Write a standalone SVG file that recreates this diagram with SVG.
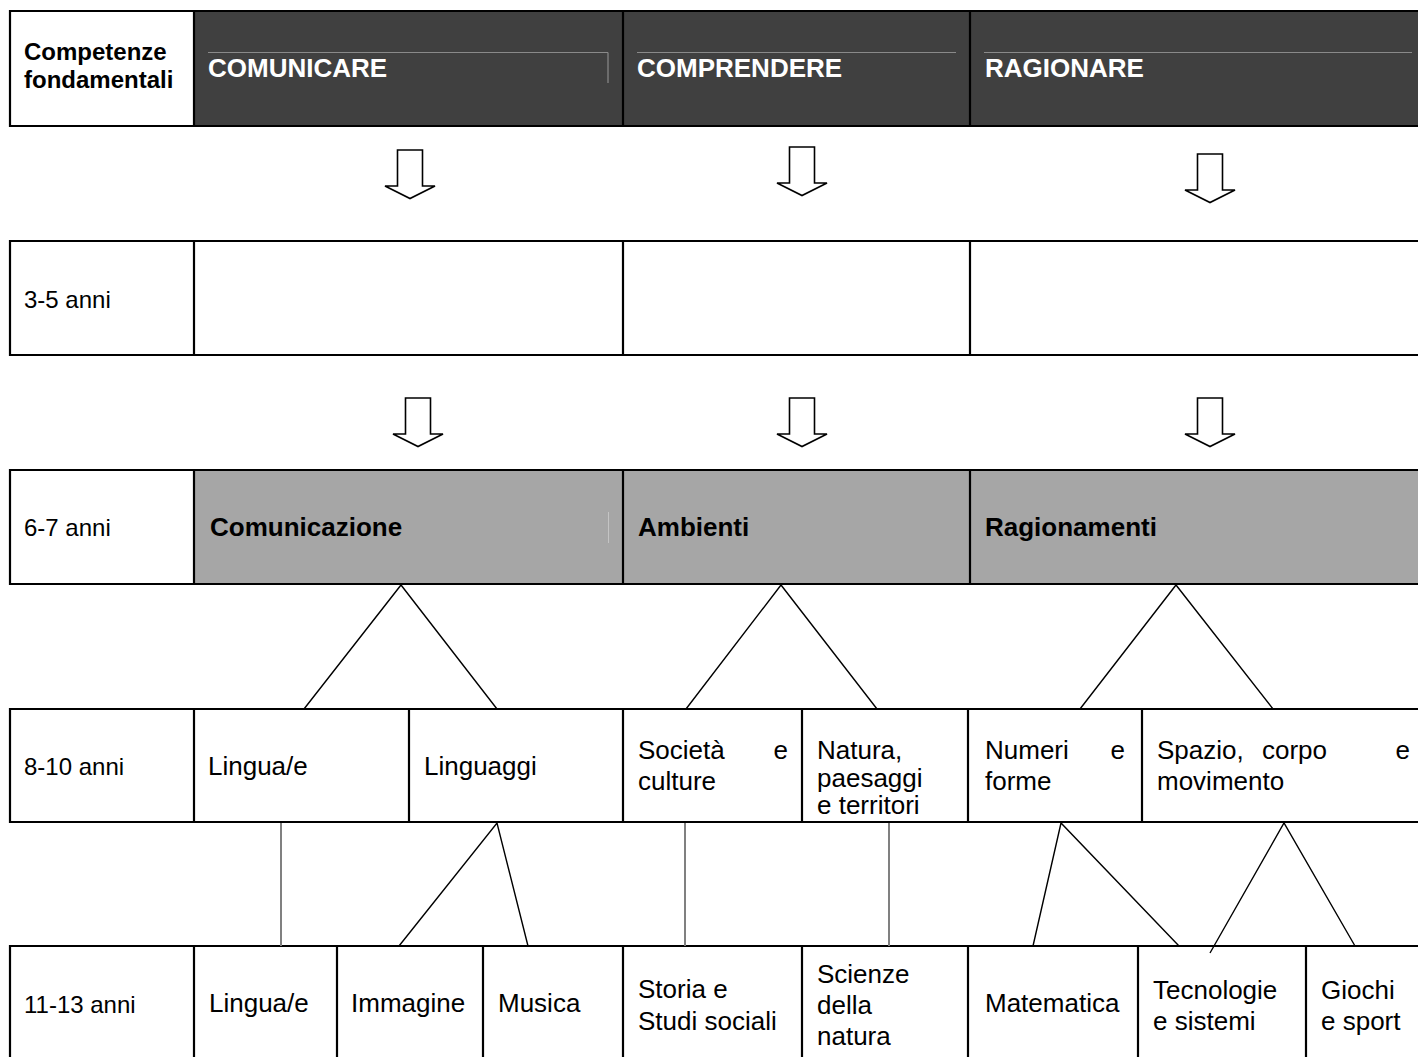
<svg xmlns="http://www.w3.org/2000/svg" width="1418" height="1057" viewBox="0 0 1418 1057">
<style>
  .cell { stroke: #000; stroke-width: 2.2; }
  .w { fill: #fff; }
  .dark { fill: #404040; }
  .grey { fill: #a6a6a6; }
  .t { font-family: "Liberation Sans", Arial, sans-serif; font-size: 26px; fill: #000; }
  .age { font-family: "Liberation Sans", Arial, sans-serif; font-size: 24px; fill: #000; }
  .b { font-weight: bold; }
  .hw { font-family: "Liberation Sans", Arial, sans-serif; font-size: 26px; font-weight: bold; fill: #fff; }
  .rule { stroke: #8a8a8a; stroke-width: 1.2; fill: none; }
  .arrow { fill: #fff; stroke: #000; stroke-width: 1.6; stroke-linejoin: miter; }
  .ln { stroke: #000; stroke-width: 1.4; fill: none; }
  .gl { stroke: #808080; stroke-width: 2; fill: none; }
</style>
<defs>
  <path id="darr" d="M-12.5,0 H12.5 V36 H25 L0,48.5 L-25,36 H-12.5 Z"/>
</defs>
<rect x="0" y="0" width="1418" height="1057" fill="#fff"/>

<!-- Row 1 -->
<g id="row1">
  <rect class="w" x="10" y="11" width="184" height="115"/>
  <rect class="dark" x="194" y="11" width="1230" height="115"/>
  <line class="rule" x1="208" y1="52.5" x2="608" y2="52.5"/>
  <line class="rule" x1="608" y1="52.5" x2="608" y2="83"/>
  <line class="rule" x1="637" y1="52.5" x2="956" y2="52.5"/>
  <line class="rule" x1="984" y1="52.5" x2="1412" y2="52.5"/>
  <path class="cell" fill="none" d="M1424,11 H10 V126 H1424 M194,11 V126 M623,11 V126 M970,11 V126"/>
  <g id="n-competenze"><text class="age b" x="24" y="60">Competenze</text><text class="age b" x="24" y="88">fondamentali</text></g>
  <g id="n-comunicare"><text class="hw" x="208" y="77">COMUNICARE</text></g>
  <g id="n-comprendere"><text class="hw" x="637" y="77">COMPRENDERE</text></g>
  <g id="n-ragionare"><text class="hw" x="985" y="77">RAGIONARE</text></g>
</g>

<!-- Arrows -->
<g id="arrows">
  <use href="#darr" class="arrow" x="410" y="150"/>
  <use href="#darr" class="arrow" x="802" y="147"/>
  <use href="#darr" class="arrow" x="1210" y="154"/>
  <use href="#darr" class="arrow" x="418" y="398"/>
  <use href="#darr" class="arrow" x="802" y="398"/>
  <use href="#darr" class="arrow" x="1210" y="398"/>
</g>

<!-- Row 2 -->
<g id="row2">
  <path class="cell" fill="none" d="M1424,241 H10 V355 H1424 M194,241 V355 M623,241 V355 M970,241 V355"/>
  <g id="n-3-5"><text class="age" x="24" y="308">3-5 anni</text></g>
</g>

<!-- Row 3 -->
<g id="row3">
  <rect class="grey" x="194" y="470" width="1230" height="114"/>
  <line x1="608.5" y1="512" x2="608.5" y2="543" stroke="#c4c4c4" stroke-width="1"/>
  <path class="cell" fill="none" d="M1424,470 H10 V584 H1424 M194,470 V584 M623,470 V584 M970,470 V584"/>
  <g id="n-6-7"><text class="age" x="24" y="536">6-7 anni</text></g>
  <g id="n-comunicazione"><text class="t b" x="210" y="536">Comunicazione</text></g>
  <g id="n-ambienti"><text class="t b" x="638" y="536">Ambienti</text></g>
  <g id="n-ragionamenti"><text class="t b" x="985" y="536">Ragionamenti</text></g>
</g>

<!-- Row 4 -->
<g id="row4">
  <path class="cell" fill="none" d="M1424,709 H10 V822 H1424 M194,709 V822 M409,709 V822 M623,709 V822 M802,709 V822 M968,709 V822 M1142,709 V822"/>
  <g id="n-8-10"><text class="age" x="24" y="775">8-10 anni</text></g>
  <g id="n-lingua4"><text class="t" x="208" y="775">Lingua/e</text></g>
  <g id="n-linguaggi"><text class="t" x="424" y="775">Linguaggi</text></g>
  <g id="n-societa"><text class="t" x="638" y="759">Società</text><text class="t" x="788" y="759" text-anchor="end">e</text><text class="t" x="638" y="790">culture</text></g>
  <g id="n-natura"><text class="t" x="817" y="759">Natura,</text><text class="t" x="817" y="787">paesaggi</text><text class="t" x="817" y="814">e territori</text></g>
  <g id="n-numeri"><text class="t" x="985" y="759">Numeri</text><text class="t" x="1125" y="759" text-anchor="end">e</text><text class="t" x="985" y="790">forme</text></g>
  <g id="n-spazio"><text class="t" x="1157" y="759">Spazio,</text><text class="t" x="1262" y="759">corpo</text><text class="t" x="1410" y="759" text-anchor="end">e</text><text class="t" x="1157" y="790">movimento</text></g>
</g>

<!-- Row 5 -->
<g id="row5">
  <path class="cell" fill="none" d="M1424,946 H10 V1060 M194,946 V1060 M337,946 V1060 M483,946 V1060 M623,946 V1060 M802,946 V1060 M968,946 V1060 M1138,946 V1060 M1306,946 V1060"/>
  <g id="n-11-13"><text class="age" x="24" y="1013">11-13 anni</text></g>
  <g id="n-lingua5"><text class="t" x="209" y="1012">Lingua/e</text></g>
  <g id="n-immagine"><text class="t" x="351" y="1012">Immagine</text></g>
  <g id="n-musica"><text class="t" x="498" y="1012">Musica</text></g>
  <g id="n-storia"><text class="t" x="638" y="998">Storia e</text><text class="t" x="638" y="1030">Studi sociali</text></g>
  <g id="n-scienze"><text class="t" x="817" y="983">Scienze</text><text class="t" x="817" y="1014">della</text><text class="t" x="817" y="1045">natura</text></g>
  <g id="n-matematica"><text class="t" x="985" y="1012">Matematica</text></g>
  <g id="n-tecnologie"><text class="t" x="1153" y="999">Tecnologie</text><text class="t" x="1153" y="1030">e sistemi</text></g>
  <g id="n-giochi"><text class="t" x="1321" y="999">Giochi</text><text class="t" x="1321" y="1030">e sport</text></g>
</g>

<!-- Connectors -->
<g id="connectors">
  <path class="ln" d="M304,709 L401,585 L497,709"/>
  <path class="ln" d="M686,709 L781,585 L877,709"/>
  <path class="ln" d="M1080,709 L1176,585 L1273,709"/>
  <line class="gl" x1="281" y1="823" x2="281" y2="946"/>
  <path class="ln" d="M399,946 L497,823 L528,946"/>
  <line class="gl" x1="685" y1="823" x2="685" y2="946"/>
  <line class="gl" x1="889" y1="823" x2="889" y2="946"/>
  <path class="ln" d="M1033,946 L1061,823 L1179,946"/>
  <path class="ln" d="M1210,953 L1284,823 L1355,946"/>
</g>
</svg>
